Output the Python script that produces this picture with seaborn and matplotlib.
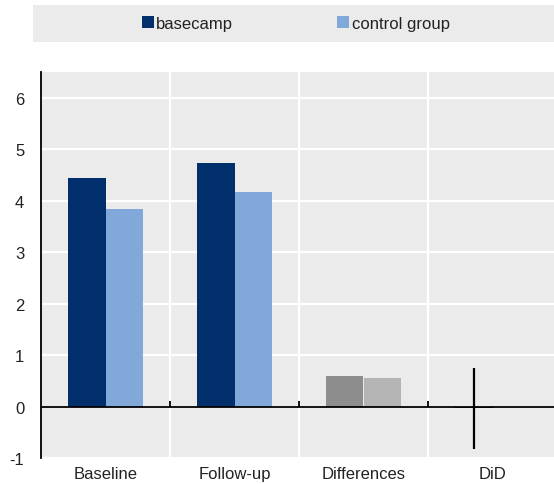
import matplotlib
matplotlib.use("Agg")
import matplotlib.pyplot as plt
from matplotlib.patches import Rectangle
from matplotlib.lines import Line2D
import seaborn as sns
import pandas as pd

# Mean scores by survey round
categories = ["Baseline", "Follow-up", "Differences", "DiD"]
basecamp = [4.44, 4.74, 0.59, -0.03]
control_group = [3.84, 4.16, 0.56, None]
did_ci_low = -0.82
did_ci_high = 0.74
y_ticks = [-1, 0, 1, 2, 3, 4, 5, 6]

NAVY = "#002f6b"
LIGHT_BLUE = "#80a9da"
DARK_GREY = "#8d8d8d"
LIGHT_GREY = "#b4b4b4"
PANEL = "#ebebeb"

rows = []
for cat, b, c in zip(categories, basecamp, control_group):
    rows.append({"category": cat, "group": "basecamp", "value": b})
    if c is not None:
        rows.append({"category": cat, "group": "control group", "value": c})
df = pd.DataFrame(rows)

sns.set_style("white")
plt.rcParams["font.family"] = ["Liberation Sans", "DejaVu Sans"]
plt.rcParams["axes.unicode_minus"] = False

fig = plt.figure(figsize=(5.54, 4.85), dpi=100)
ax = fig.add_axes([41 / 554, 26 / 485, 516 / 554, 386 / 485])
ax.set_facecolor(PANEL)

sns.barplot(data=df, x="category", y="value", hue="group",
            order=categories, hue_order=["basecamp", "control group"],
            palette=[NAVY, LIGHT_BLUE], saturation=1, width=0.574,
            linewidth=0, errorbar=None, legend=False, ax=ax, zorder=3)

# Grey shading for the difference bars; locate the DiD bar for its interval
did_x = None
for p in ax.patches:
    cx = p.get_x() + p.get_width() / 2
    idx = int(round(cx))
    if idx == 2:
        is_base = cx < 2
        p.set_facecolor(DARK_GREY if is_base else LIGHT_GREY)
    if idx == 3:
        did_x = cx
        p.set_height(basecamp[3])

ax.errorbar([did_x], [basecamp[3]],
            yerr=[[basecamp[3] - did_ci_low], [did_ci_high - basecamp[3]]],
            fmt="none", ecolor="black", elinewidth=1.6, capsize=0, zorder=5)

ax.set_xlim(-0.5, 3.5)
ax.set_ylim(-1, 6.5)
ax.set_yticks(y_ticks)
ax.set_yticklabels([str(t) for t in y_ticks])

# White grid: horizontal at each unit, vertical between categories
for t in y_ticks:
    ax.axhline(t, color="white", lw=1.6, zorder=1)
for xb in [0.5, 1.5, 2.5]:
    ax.axvline(xb, color="white", lw=1.6, zorder=1)
    ax.plot([xb, xb], [0, 0.1], color="black", lw=1.3, zorder=4,
            solid_capstyle="butt")
ax.axhline(0, color="black", lw=1.3, zorder=4)

for s in ["top", "right", "bottom"]:
    ax.spines[s].set_visible(False)
ax.spines["left"].set_color("black")
ax.spines["left"].set_linewidth(1.3)

ax.tick_params(axis="y", direction="in", length=5, width=1.3, color="black",
               labelsize=12, pad=12, labelcolor="#222222")
ax.tick_params(axis="x", length=0, labelsize=12, pad=6, labelcolor="#222222")
ax.set_xlabel("")
ax.set_ylabel("")

# Legend band along the top
fig.patches.append(Rectangle((33 / 554, 1 - 43 / 485), 521 / 554, 37 / 485,
                             transform=fig.transFigure, facecolor=PANEL,
                             edgecolor="none", zorder=0))
handles = [Line2D([], [], marker="s", linestyle="none", markersize=9,
                  markerfacecolor=NAVY, markeredgewidth=0),
           Line2D([], [], marker="s", linestyle="none", markersize=9,
                  markerfacecolor=LIGHT_BLUE, markeredgewidth=0)]
fig.legend(handles, ["basecamp", "control group"], ncol=2, frameon=False,
           loc="center", bbox_to_anchor=(0.535, 1 - 24.5 / 485),
           fontsize=12, handlelength=0.6, handletextpad=0.2,
           columnspacing=6.3, labelcolor="#222222")

fig.savefig("out.png", dpi=100)
